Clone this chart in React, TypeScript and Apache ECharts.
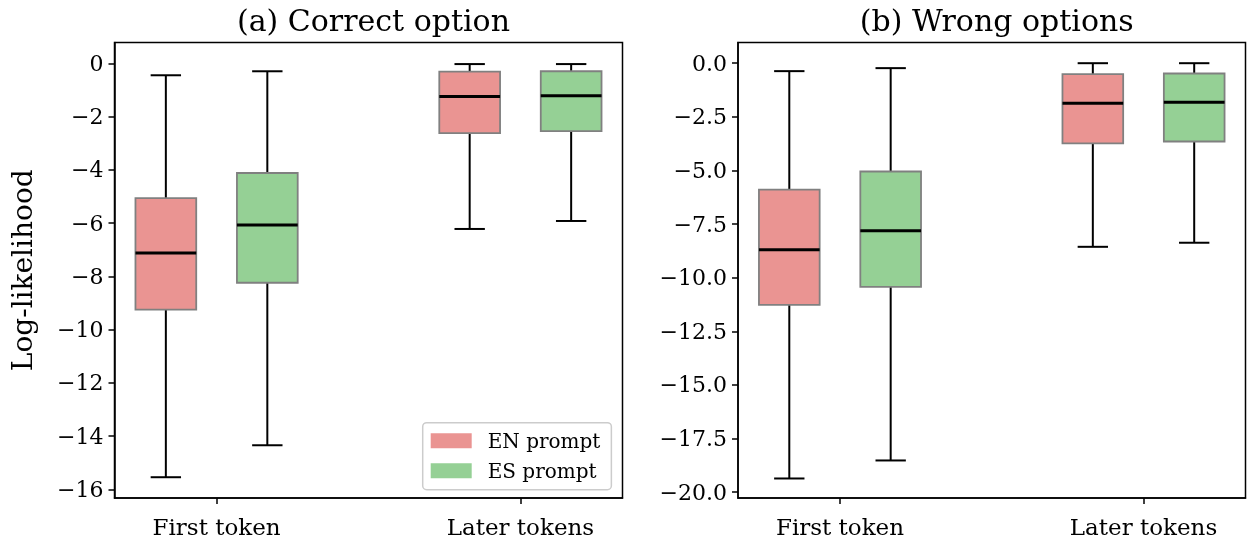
import React, { useEffect, useRef } from "react";
import * as echarts from "echarts";

// ---- data ----
const categories = ["First token", "Later tokens"];
const prompts = ["EN prompt", "ES prompt"];
const panelTitles = ["(a) Correct option", "(b) Wrong options"];

// [min, q1, median, q3, max] per category
const correctEN = [
  [-15.54, -9.25, -7.12, -5.06, -0.45],
  [-6.22, -2.62, -1.25, -0.31, -0.03],
];
const correctES = [
  [-14.34, -8.24, -6.07, -4.12, -0.3],
  [-5.92, -2.55, -1.22, -0.3, -0.03],
];
const wrongEN = [
  [-19.36, -11.27, -8.7, -5.89, -0.37],
  [-8.56, -3.74, -1.87, -0.51, 0.0],
];
const wrongES = [
  [-18.52, -10.43, -7.81, -5.05, -0.23],
  [-8.37, -3.65, -1.82, -0.48, 0.0],
];

const yTicksCorrect = [-16, -14, -12, -10, -8, -6, -4, -2, 0];
const yTicksWrong = [-20, -17.5, -15, -12.5, -10, -7.5, -5, -2.5, 0];

const FONT = "DejaVu Serif";
const colors = ["#EA9492", "#95D095"];
const OFFSET = 0.167;
const BOXW = 0.2;

function fmtMinus(v: number, dec: number) {
  const s = Math.abs(v).toFixed(dec);
  return v < 0 ? "\u2212" + s : s;
}

function toData(stats: number[][], offset: number) {
  return stats.map((s, i) => [i + 1 + offset, ...s]);
}

function renderBox(color: string) {
  return (params: any, api: any) => {
    const x = api.value(0);
    const vals = [1, 2, 3, 4, 5].map((i) => api.value(i));
    const pts = vals.map((v) => api.coord([x, v]));
    const cx = pts[0][0];
    const y = pts.map((p: number[]) => p[1]);
    const w = api.size([BOXW, 0])[0];
    const lineStyle = { stroke: "#000", lineWidth: 2 };
    return {
      type: "group",
      children: [
        { type: "line", shape: { x1: cx, y1: y[0], x2: cx, y2: y[1] }, style: lineStyle },
        { type: "line", shape: { x1: cx, y1: y[3], x2: cx, y2: y[4] }, style: lineStyle },
        { type: "line", shape: { x1: cx - w / 4, y1: y[0], x2: cx + w / 4, y2: y[0] }, style: lineStyle },
        { type: "line", shape: { x1: cx - w / 4, y1: y[4], x2: cx + w / 4, y2: y[4] }, style: lineStyle },
        {
          type: "rect",
          shape: { x: cx - w / 2, y: y[3], width: w, height: y[1] - y[3] },
          style: { fill: color, stroke: "#808080", lineWidth: 1.8 },
        },
        { type: "line", shape: { x1: cx - w / 2, y1: y[2], x2: cx + w / 2, y2: y[2] }, style: { stroke: "#000", lineWidth: 3 } },
      ],
    };
  };
}

export default function App() {
  const ref = useRef<HTMLDivElement>(null);
  useEffect(() => {
    if (!ref.current) return;
    const chart = echarts.init(ref.current, null, { renderer: "svg" });
    const grids = [
      { left: 114.5, top: 42.5, width: 508, height: 455.5 },
      { left: 738, top: 42.5, width: 507.5, height: 455.5 },
    ];
    const xAxis = grids.map((_, gi) => ({
      type: "value",
      gridIndex: gi,
      min: 0.664,
      max: 2.336,
      splitLine: { show: false },
      axisLine: { show: true, onZero: false, lineStyle: { color: "#000", width: 1.5 } },
      axisTick: { show: true, length: 6, customValues: [1, 2], lineStyle: { color: "#000", width: 1.5 } },
      axisLabel: {
        customValues: [1, 2],
        formatter: (v: number) => categories[Math.round(v) - 1] ?? "",
        color: "#000",
        fontFamily: FONT,
        fontSize: 23,
        margin: 17,
      },
    }));
    const yDefs = [
      { ticks: yTicksCorrect, min: -16.32, max: 0.78, dec: 0 },
      { ticks: yTicksWrong, min: -20.27, max: 0.965, dec: 1 },
    ];
    const yAxis = yDefs.map((d, gi) => ({
      type: "value",
      gridIndex: gi,
      min: d.min,
      max: d.max,
      splitLine: { show: false },
      name: gi === 0 ? "Log-likelihood" : "",
      nameLocation: "middle",
      nameGap: 78,
      nameTextStyle: { fontFamily: FONT, fontSize: 28, color: "#000" },
      axisLine: { show: true, onZero: false, lineStyle: { color: "#000", width: 1.5 } },
      axisTick: { show: true, length: 6, customValues: d.ticks, lineStyle: { color: "#000", width: 1.5 } },
      axisLabel: {
        customValues: d.ticks,
        formatter: (v: number) => fmtMinus(v, d.dec),
        color: "#000",
        fontFamily: FONT,
        fontSize: 22,
        margin: 11,
      },
    }));
    const panels = [
      [correctEN, correctES],
      [wrongEN, wrongES],
    ];
    const series: any[] = [];
    panels.forEach((pair, gi) => {
      pair.forEach((stats, pi) => {
        series.push({
          type: "custom",
          name: prompts[pi],
          xAxisIndex: gi,
          yAxisIndex: gi,
          itemStyle: { color: colors[pi] },
          encode: { x: 0, y: [1, 2, 3, 4, 5] },
          data: toData(stats, pi === 0 ? -OFFSET : OFFSET),
          renderItem: renderBox(colors[pi]),
          clip: false,
        });
      });
    });
    chart.setOption({
      animation: false,
      title: panelTitles.map((t, i) => ({
        text: t,
        left: grids[i].left + grids[i].width / 2,
        textAlign: "center",
        top: 0,
        textStyle: { fontFamily: FONT, fontSize: 30, fontWeight: "normal", color: "#000" },
      })),
      grid: grids.map((g) => ({ ...g, show: true, borderColor: "#000", borderWidth: 1.5, backgroundColor: "transparent" })),
      legend: {
        data: prompts.map((p) => ({ name: p, icon: "rect" })),
        orient: "vertical",
        left: 422.7,
        top: 422.7,
        padding: [8, 11, 9, 8],
        itemWidth: 41,
        itemHeight: 15,
        itemGap: 10,
        borderColor: "#cccccc",
        borderWidth: 1.5,
        borderRadius: 4,
        backgroundColor: "#fff",
        itemStyle: { borderWidth: 0 },
        textStyle: { fontFamily: FONT, fontSize: 20, color: "#000", padding: [0, 0, 0, 11] },
      },
      xAxis,
      yAxis,
      series,
    });
    return () => chart.dispose();
  }, []);
  return <div ref={ref} style={{ position: "fixed", left: 0, top: 0, width: 1249, height: 540 }} />;
}
